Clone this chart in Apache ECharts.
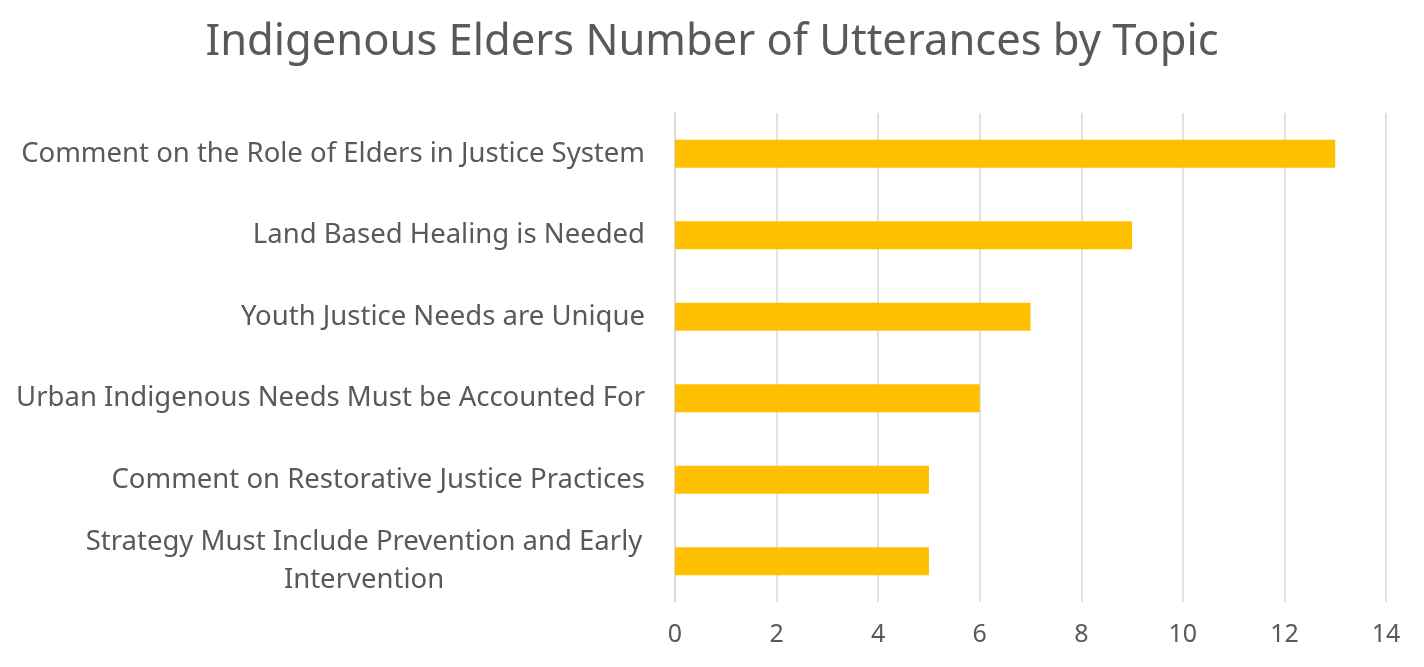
<!DOCTYPE html>
<html><head><meta charset="utf-8">
<script src="https://cdn.jsdelivr.net/npm/echarts@6/dist/echarts.min.js"></script>
<style>html,body{margin:0;padding:0;background:#fff}#c{width:1424px;height:667px}</style>
</head><body><div id="c"></div>
<script>
const categories = ["Comment on the Role of Elders in Justice System","Land Based Healing is Needed","Youth Justice Needs are Unique","Urban Indigenous Needs Must be Accounted For","Comment on Restorative Justice Practices","Strategy Must Include Prevention and Early Intervention"];
const values = [13, 9, 7, 6, 5, 5];
const chart = echarts.init(document.getElementById('c'));
chart.setOption({
  animation:false,
  title:{text:'Indigenous Elders Number of Utterances by Topic',left:'center',top:16,textStyle:{fontFamily:'Noto Sans',fontSize:43.5,fontWeight:'normal',color:'#595959'}},
  grid:{left:675,right:38,top:113,bottom:65},
  xAxis:{type:'value',min:0,max:14,interval:2,axisLine:{show:false},axisTick:{show:false},
    splitLine:{lineStyle:{color:'#d9d9d9',width:1.5}},
    axisLabel:{margin:20,fontFamily:'Noto Sans',fontSize:25,color:'#595959'}},
  yAxis:{type:'category',inverse:true,data:categories,axisTick:{show:false},
    axisLine:{lineStyle:{color:'#d9d9d9',width:1.5}},
    axisLabel:{margin:30,fontFamily:'Noto Sans',fontSize:27.5,color:'#595959',lineHeight:38,
      formatter:function(v){ if(v.indexOf('Early Intervention')>=0){return '{c|Strategy Must Include Prevention and Early}\n{c|Intervention}';} return v;},
      rich:{c:{width:562,align:'center',fontFamily:'Noto Sans',fontSize:27.5,color:'#595959',lineHeight:38}}}},
  series:[{type:'bar',data:values,barWidth:28,itemStyle:{color:'#ffc000'}}]
});
</script></body></html>
